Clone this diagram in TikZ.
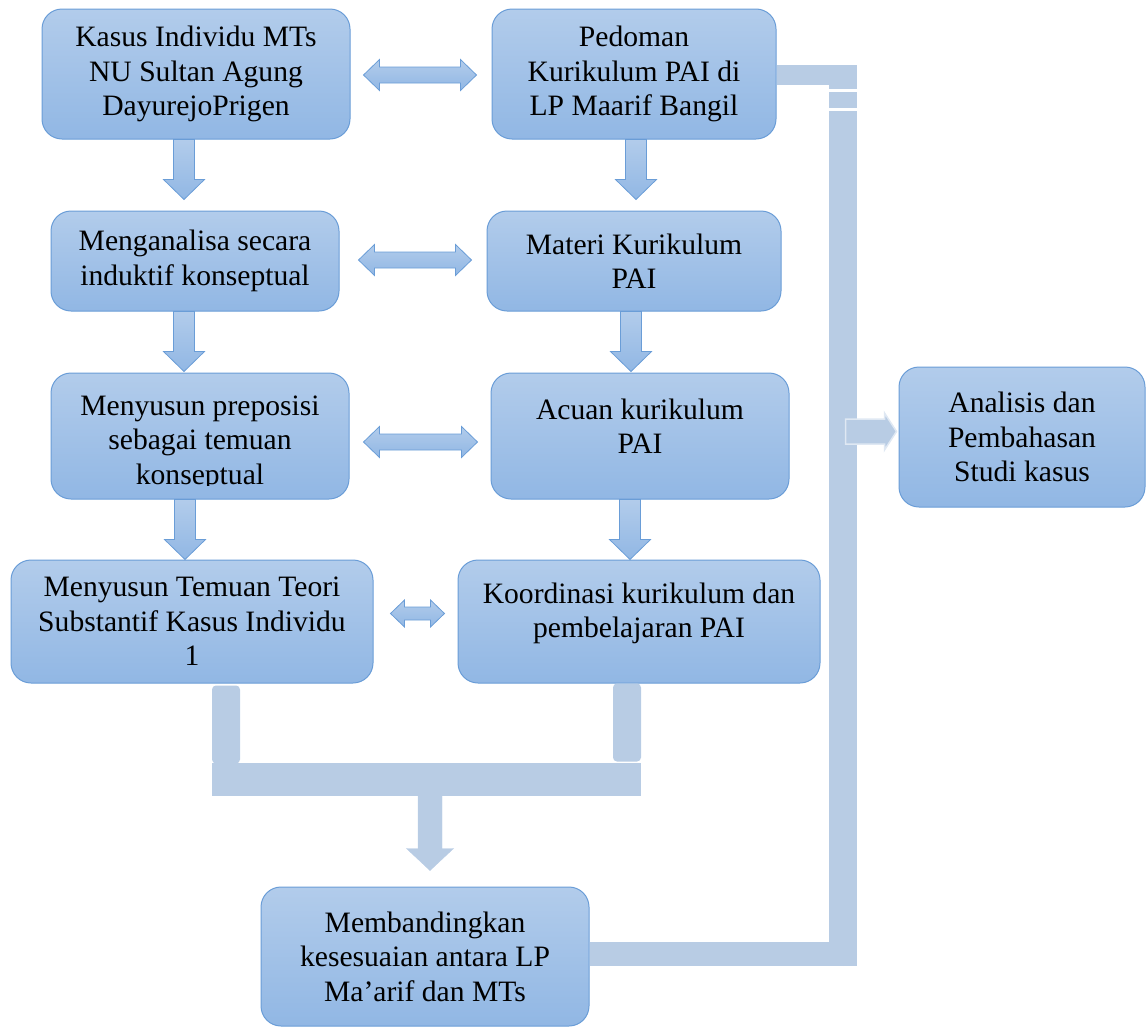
\documentclass[tikz,border=0pt]{standalone}
\usepackage{fontspec}
\setmainfont{Liberation Serif}
\usetikzlibrary{calc}

\definecolor{boxtop}{RGB}{178,204,235}
\definecolor{boxbot}{RGB}{145,183,228}
\definecolor{boxline}{RGB}{106,157,215}
\definecolor{barfill}{RGB}{184,204,228}

\tikzset{
  kotak/.style={draw=boxline, line width=1pt, rounded corners=20pt,
    top color=boxtop, bottom color=boxbot, align=center, inner sep=0pt,
    font=\fontsize{29.6}{34.5}\selectfont},
  teks/.style={align=center, inner sep=0pt, font=\fontsize{29.6}{34.5}\selectfont},
  blok/.style={draw=boxline, line width=0.8pt, top color=boxtop, bottom color=boxbot},
  batang/.style={draw=barfill, fill=barfill},
}

% block arrow pointing down: from #2 to tip #3, half shaft #4, half head #5, head length #6
\newcommand{\panahbawah}[6][blok]{%
  \path[#1] let \p1=#2, \p2=#3 in
    (\x1-#4pt,\y1) -- (\x1+#4pt,\y1) -- (\x1+#4pt,\y2+#6pt) -- (\x1+#5pt,\y2+#6pt)
    -- (\x1,\y2) -- (\x1-#5pt,\y2+#6pt) -- (\x1-#4pt,\y2+#6pt) -- cycle;}

% double block arrow: from tip #1 to tip #2, half shaft #3, half head #4, head length #5
\newcommand{\panahganda}[5]{%
  \path[blok] let \p1=#1, \p2=#2 in
    (\x1,\y1) -- (\x1+#5pt,\y1+#4pt) -- (\x1+#5pt,\y1+#3pt) -- (\x2-#5pt,\y1+#3pt)
    -- (\x2-#5pt,\y1+#4pt) -- (\x2,\y1) -- (\x2-#5pt,\y1-#4pt) -- (\x2-#5pt,\y1-#3pt)
    -- (\x1+#5pt,\y1-#3pt) -- (\x1+#5pt,\y1-#4pt) -- cycle;}

\begin{document}
\begin{tikzpicture}[x=1pt, y=-1pt]
  \useasboundingbox (0,0) rectangle (1146,1028);

  % boxes
  \node[kotak, minimum width=308pt, minimum height=130pt] (k1) at (196,74)
    {Kasus Individu MTs\\NU Sultan Agung\\DayurejoPrigen};
  \node[kotak, minimum width=284pt, minimum height=130pt] (k2) at (634,74)
    {Pedoman\\Kurikulum PAI di\\LP Maarif Bangil};
  \node[kotak, minimum width=288pt, minimum height=100pt] (k3) at (195,261)
    {Menganalisa secara\\induktif konseptual};
  \node[kotak, minimum width=294pt, minimum height=100pt] (k4) at (634,261)
    {Materi Kurikulum\\PAI};
  \node[kotak, minimum width=298pt, minimum height=126pt] (k5) at (200,436) {};
  \node[kotak, minimum width=298pt, minimum height=126pt] (k6) at (640,436) {};
  \node[kotak, minimum width=362pt, minimum height=123pt] (k7) at (192,621.5)
    {Menyusun Temuan Teori\\Substantif Kasus Individu\\1};
  \node[kotak, minimum width=362pt, minimum height=123pt] (k8) at (639,621.5) {};
  \node[kotak, minimum width=328pt, minimum height=139pt] (k9) at (425,956.5)
    {Membandingkan\\kesesuaian antara LP\\Ma’arif dan MTs};
  \node[kotak, minimum width=246pt, minimum height=140pt] (k10) at (1022,437)
    {Analisis dan\\Pembahasan\\Studi kasus};

  % texts set off the box centre
  \begin{scope}
    \clip (52,374) rectangle (348,485);
    \node[teks] (t5) at ($(k5.center)+(0,7)$) {Menyusun preposisi\\sebagai temuan\\konseptual};
  \end{scope}
  \node[teks] (t6) at ($(k6.center)+(0,-10)$) {Acuan kurikulum\\PAI};
  \node[teks] (t8) at ($(k8.center)+(0,-8)$) {Koordinasi kurikulum dan\\pembelajaran PAI};

  % down arrows
  \panahbawah{(184,0 |- k1.south)}{($(184,0 |- k3.north)+(0,-11)$)}{10.5}{20.5}{20}
  \panahbawah{(636,0 |- k2.south)}{($(636,0 |- k4.north)+(0,-11)$)}{10.5}{20.5}{20}
  \panahbawah{(184,0 |- k3.south)}{($(184,0 |- k5.north)+(0,-1)$)}{10.5}{20.5}{20}
  \panahbawah{(631,0 |- k4.south)}{($(631,0 |- k6.north)+(0,-1)$)}{10.5}{20.5}{20}
  \panahbawah{(185,0 |- k5.south)}{(185,0 |- k7.north)}{10.5}{20.5}{20}
  \panahbawah{(630,0 |- k6.south)}{(630,0 |- k8.north)}{10.5}{20.5}{20}

  % double arrows
  \panahganda{($(k1.east)+(13,1)$)}{($(k2.west)+(-15,1)$)}{8}{15.5}{16}
  \panahganda{($(k3.east)+(19,-1)$)}{($(k4.west)+(-15,-1)$)}{8}{15.5}{16}
  \panahganda{($(k5.east)+(14,6)$)}{($(k6.west)+(-13,6)$)}{8}{15.5}{16}
  \panahganda{($(k7.east)+(17,-8)$)}{($(k8.west)+(-13,-8)$)}{6.5}{13.5}{14}

  % joining bars below
  \coordinate (s7) at ($(k7.south)+(34,0)$);
  \coordinate (s8) at ($(k8.south)+(-12,0)$);
  \coordinate (sj) at ($(430,0 |- s8)+(0,110)$);
  \fill[barfill, rounded corners=4pt] ($(s7)+(-14,2)$) rectangle ($(s7)+(14,80)$);
  \fill[barfill, rounded corners=4pt] ($(s8)+(-14,0)$) rectangle ($(s8)+(14,78)$);
  \fill[barfill] ($(s7)+(-14,79)$) rectangle ($(s8)+(14,112)$);
  \panahbawah[batang]{(sj)}{($(k9.north)+(5,-16)$)}{12}{23.5}{22}

  % connector on the right
  \draw[batang, line width=20pt] (k2.east |- 0,75) -- (843,75);
  \draw[batang, line width=28pt] (843,65) -- (843,966);
  \draw[batang, line width=24pt] (k9.east |- 0,954) -- (857,954);
  \draw[white, line width=2.5pt] (829,90.5) -- (857,90.5) (829,109.5) -- (857,109.5);
  \path[batang, draw=white!55!barfill, line width=1.5pt] let \p1=($(k10.west)+(-2,-5.5)$) in
    (\x1-51pt,\y1+12.5pt) -- (\x1-12pt,\y1+12.5pt) -- (\x1-12pt,\y1+18.5pt) -- (\x1,\y1)
    -- (\x1-12pt,\y1-18.5pt) -- (\x1-12pt,\y1-12.5pt) -- (\x1-51pt,\y1-12.5pt) -- cycle;
\end{tikzpicture}
\end{document}
